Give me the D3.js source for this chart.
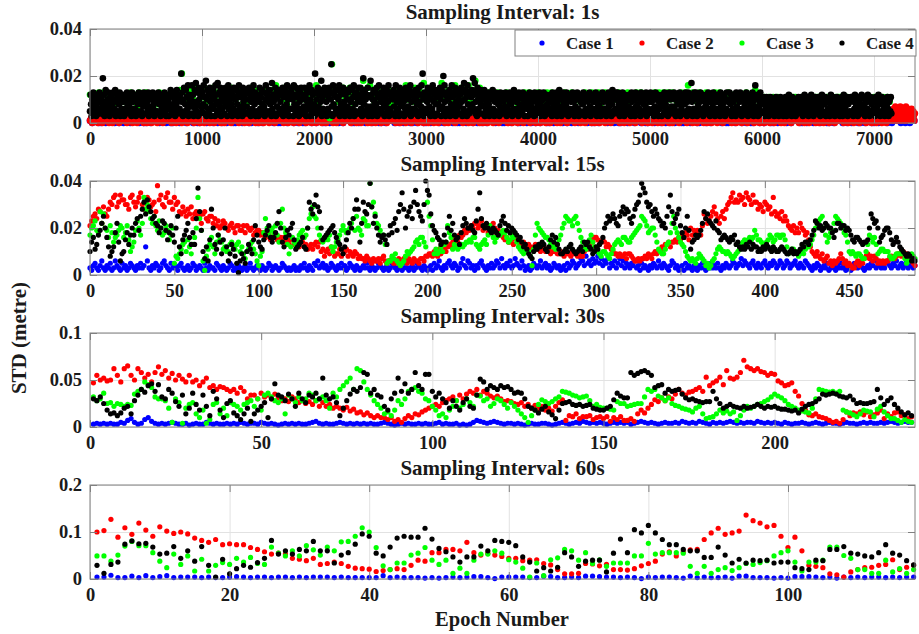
<!DOCTYPE html>
<html>
<head>
<meta charset="utf-8">
<script src="https://cdn.jsdelivr.net/npm/d3@7"></script>
<style>
  body { margin: 0; background: #fff; }
  svg { display: block; font-family: "Liberation Serif", "Times New Roman", serif; font-weight: bold; }
</style>
</head>
<body>
<script>
const W = 919;
const H = 634;

const caseNames = ["Case 1", "Case 2", "Case 3", "Case 4"];
const caseColors = ["#0000ff", "#ff0000", "#00ff00", "#000000"];
const panelTitles = ["Sampling Interval: 1s", "Sampling Interval: 15s", "Sampling Interval: 30s", "Sampling Interval: 60s"];
const xMax = [7366, 489, 241, 118.2];
const yMax = [0.04, 0.04, 0.1, 0.2];
const xTickValues = [
  [0, 1000, 2000, 3000, 4000, 5000, 6000, 7000],
  [0, 50, 100, 150, 200, 250, 300, 350, 400, 450],
  [0, 50, 100, 150, 200],
  [0, 20, 40, 60, 80, 100]
];
const yTickValues = [[0, 0.02, 0.04], [0, 0.02, 0.04], [0, 0.05, 0.1], [0, 0.1, 0.2]];

// all STD values below are in millimetres

// ---- 1 s sampling (values kept every few epochs) ----
const p1Blue = [ // epoch 0, 20, 40 ...
  1,0,1,1,0, 0,1,0,1,1, 1,0,1,0,1, 0,1,1,0,1, 1,1,0,1,0, 0,1,0,1,1, 1,0,1,1,0, 1,0,0,1,1,
  0,1,1,0,1, 1,0,1,0,0, 1,1,0,1,1, 0,1,0,1,0, 1,0,1,1,0, 0,1,1,0,1, 1,0,0,1,1, 0,1,0,1,1,
  1,1,0,1,0, 0,1,1,0,1, 1,0,1,0,1, 0,0,1,1,0, 1,0,1,1,0, 0,1,0,1,1, 1,0,1,0,1, 1,1,0,0,1,
  0,1,1,0,1, 1,0,1,1,0, 0,1,0,1,1, 1,0,1,0,1, 0,1,1,0,0, 1,0,1,1,0, 0,1,0,1,1, 1,0,1,0,1,
  1,1,0,1,0, 0,1,1,0,1, 1,0,1,0,1, 0,1,0,1,1, 1,0,1,1,0, 0,1,1,0,1, 1,0,0,1,1, 0,1,0,1,0,
  1,0,1,1,0, 0,1,0,1,1, 1,0,1,0,1, 0,1,1,0,1, 1,1,0,1,0, 0,1,0,1,1, 1,0,1,1,0, 1,0,0,1,1,
  0,1,1,0,1, 1,0,1,0,0, 1,1,0,1,1, 0,1,0,1,0, 1,0,1,1,0, 0,1,1,0,1, 1,0,0,1,1, 0,1,0,1,1,
  1,1,0,1,0, 0,1,1,0,1, 1,0,1,0,1, 0,0,1,1,0, 1,0,1,1,0, 0,1,0,1,1, 1,0,1,0,1, 1,1,0,0,1,
  0,1,1,0,1, 1,0,1,1,0, 0,1,0,1,1, 1,0,1,0,1, 0,1,1,0,0, 1,0,1,1,0, 0,1,0,1,1, 1,0,1,0,1,
  1,1,0,1,0, 1,0,1,1
];
const p1Red = [ // epoch 0, 10, 20 ... 7150
  1,2,0,1,2,1,2,0,2,1, 2,0,1,2,1,2,1,0,2,1, 0,2,1,2,1,3,0,1,2,1, 1,2,1,0,2,1,2,1,0,2,
  2,1,0,2,1,2,1,2,0,1, 1,0,2,1,2,0,3,1,1,2, 0,1,2,2,1,0,2,1,2,1, 2,1,1,0,2,2,1,0,1,2,
  1,2,0,2,1,1,3,0,2,1, 2,1,2,0,1,2,1,2,0,1, 1,2,0,1,2,1,3,0,2,1, 2,0,1,2,1,2,1,0,2,1,
  0,2,1,2,1,2,0,1,2,1, 1,2,1,0,2,1,2,1,0,2, 2,1,0,2,1,2,1,3,0,1, 1,0,2,1,2,0,2,1,1,2,
  0,1,2,3,1,0,2,1,2,1, 2,1,1,0,2,2,1,0,1,2, 1,2,0,2,1,1,2,0,3,1, 2,1,2,0,1,2,1,2,0,1,
  1,2,0,1,2,1,2,0,2,1, 2,0,1,2,1,2,1,0,2,1, 0,2,1,2,1,3,0,1,2,1, 1,2,1,0,2,1,2,1,0,2,
  2,1,0,2,1,2,1,2,0,1, 1,0,2,1,2,0,3,1,1,2, 0,1,2,2,1,0,2,1,2,1, 2,1,1,0,2,2,1,0,1,2,
  1,2,0,2,1,1,3,0,2,1, 2,1,2,0,1,2,1,2,0,1, 1,2,0,1,2,1,3,0,2,1, 2,0,1,2,1,2,1,0,2,1,
  0,2,1,2,1,2,0,1,2,1, 1,2,1,0,2,1,2,1,0,2, 2,1,0,2,1,2,1,3,0,1, 1,0,2,1,2,0,2,1,1,2,
  0,1,2,3,1,0,2,1,2,1, 2,1,1,0,2,2,1,0,1,2, 1,2,0,2,1,1,2,0,3,1, 2,1,2,0,1,2,1,2,0,1,
  1,2,0,1,2,1,2,0,2,1, 2,0,1,2,1,2,1,0,2,1, 0,2,1,2,1,3,0,1,2,1, 1,2,1,0,2,1,2,1,0,2,
  2,1,0,2,1,2,1,2,0,1, 1,0,2,1,2,0,3,1,1,2, 0,1,2,2,1,0,2,1,2,1, 2,1,1,0,2,2,1,0,1,2,
  1,2,0,2,1,1,3,0,2,1, 2,1,2,0,1,2,1,2,0,1, 1,2,0,1,2,1,3,0,2,1, 2,0,1,2,1,2,1,0,2,1,
  0,2,1,2,1,2,0,1,2,1, 1,2,1,0,2,1,2,1,0,2, 2,1,0,2,1,2,1,3,0,1, 1,0,2,1,2,0,2,1,1,2,
  0,1,2,3,1,0,2,1,2,1, 2,1,1,0,2,2,1,0,1,2, 1,2,0,2,1,1,2,0,3,1, 2,1,2,0,1,2,1,2,0,1,
  1,2,0,1,2,1,2,0,2,1, 2,0,1,2,1,2,1,0,2,1, 0,2,1,2,1,3,0,1,2,1, 1,2,1,0,2,1,2,1,0,2,
  2,1,0,2,1,2,1,2,0,1, 1,0,2,1,2,0,3,1,1,2, 0,1,2,2,1,0,2,1,2,1, 2,1,1,0,2,2,1,0,1,2,
  1,2,0,2,1,1,3,0,2,1, 2,1,2,0,1,2,1,2,0,1, 1,2,0,1,2,1,3,0,2,1, 2,0,1,2,1,2
];
const p1RedEnd = [ // epoch 7160, 7165 ... 7365
  3,5,1,6,4,2,7,3,5,1, 4,6,2,5,3,7,1,4,6,2, 5,3,6,1,4,7,2,5,3,6,
  1,4,2,5,3,6,4,2,5,3, 1,4
];
const p1Green = [ // epoch 0, 20, 40 ... 7140
  12,8,11,6,13, 9,13,7,11,10, 12,8,13,10,11, 9,12,6,13,11, 12,7,13,10,8, 13,10,6,12,11, 8,13,11,12,9, 12,6,13,10,12,
  14,21,9,13,11, 14,10,15,8,13, 11,15,9,14,12, 15,10,13,7,14, 12,14,9,15,11, 10,14,12,8,14, 13,9,15,11,12,
  14,11,8,14,10, 9,14,12,16,11, 13,10,15,8,14, 11,15,9,13,12, 14,10,12,15,9, 12,16,8,14,11, 10,13,2,25,15,
  14,9,12,15,10, 11,15,13,8,14, 13,10,18,12,15, 16,12,9,14,11, 10,14,12,15,8, 13,9,15,11,14, 12,16,10,13,9,
  15,11,14,10,17, 13,10,15,12,9, 11,14,17,13,10, 14,9,12,16,11, 12,15,10,13,16, 10,14,18,12,15,
  12,11,9,13,12, 12,10,13,8,12, 9,13,11,12,10, 13,8,12,10,13, 11,13,9,12,12, 13,10,12,9,13, 10,13,11,12,8,
  12,9,13,11,12, 13,11,10,12,9, 9,13,12,10,13, 12,10,13,8,11, 13,12,9,13,10, 10,13,11,12,12, 13,9,12,10,13,
  11,13,10,12,9, 12,10,13,11,13, 9,13,12,13,10, 13,11,9,12,13, 10,13,16,11,13, 12,9,13,10,12, 13,11,12,9,13,
  10,13,11,12,12, 13,10,12,9,12, 11,12,10,13,9, 12,10,14,11,8,
  10,11,9,11,10, 11,9,11,10,8, 9,11,10,11,11, 11,10,8,11,9, 10,11,11,9,11, 11,9,11,10,11,
  9,11,10,11,11, 11,10,9,11,10, 10,11,11,9,11, 11,11,10,11,9, 11,9,11,10,11, 10,11,9
];
const p1Black = [ // epoch 0, 5, 10 ... 7155
  5,12,8,3,10,6,13,4,9,7, 11,3,8,12,5,10,4,13,6,9,
  11,4,8,19,6,12,3,9,14,5, 7,10,4,13,8,3,11,6,12,9,
  7,13,4,10,6,14,3,9,12,5, 10,4,8,13,3,11,6,12,5,9,
  10,3,12,6,9,4,13,7,11,5, 8,12,4,10,3,13,6,9,11,5,
  6,11,3,9,12,5,8,13,4,10, 12,5,9,3,11,7,13,4,8,10,
  12,4,9,6,13,3,10,7,11,5, 4,10,13,6,8,3,12,5,9,11,
  5,10,13,4,8,11,3,12,6,9, 11,4,7,13,5,10,3,12,8,6,
  9,3,11,6,14,5,12,4,8,13, 6,10,3,12,7,14,4,9,11,5,
  6,12,4,21,9,13,3,10,15,5, 8,14,4,11,6,16,3,12,9,7,
  11,4,16,7,12,3,9,14,6,17, 5,13,8,3,15,10,4,12,7,14,
  5,13,8,16,4,11,7,18,3,10, 14,6,12,4,15,9,3,13,7,11,
  14,6,10,3,16,8,12,5,17,9, 4,13,7,15,3,11,6,14,9,12,
  4,11,15,7,13,3,9,16,6,12, 10,5,14,8,3,12,6,15,11,4,
  10,5,14,8,3,12,16,6,11,4, 13,7,3,15,9,5,12,4,10,14,
  7,13,4,10,15,5,12,3,9,14, 6,11,16,4,8,13,3,10,5,12,
  12,3,9,15,6,11,4,14,8,5, 13,7,3,10,16,5,12,4,9,14,
  5,14,8,11,3,17,6,12,9,4, 10,15,3,13,7,11,4,14,6,12,
  9,4,13,6,15,3,11,7,14,5, 12,8,16,4,10,3,13,6,11,15,
  13,6,10,3,16,8,12,4,15,7, 5,11,14,3,9,13,6,15,4,10,
  4,12,7,15,5,11,3,14,9,6, 13,8,16,3,10,5,14,7,12,4,
  8,3,21,6,13,10,4,15,7,12, 5,14,9,18,3,11,6,13,4,15,
  5,14,9,3,12,6,11,15,4,13, 10,25,7,3,16,8,12,4,14,6,
  11,6,14,4,10,16,3,12,8,5, 13,7,15,4,9,3,12,6,14,10,
  7,13,5,10,3,15,9,4,14,6, 11,16,3,12,8,5,13,4,10,15,
  12,4,9,15,6,11,3,13,19,8, 5,14,10,4,12,7,15,3,11,6,
  5,18,7,12,3,10,14,6,9,4, 13,8,15,3,11,6,16,4,12,9,
  13,6,11,4,15,8,3,12,7,10, 14,5,9,16,3,12,6,13,4,11,
  4,10,14,7,12,3,16,5,9,13, 6,11,3,15,8,12,4,10,14,7,
  9,3,12,6,15,10,4,13,7,11, 14,5,16,3,9,12,6,13,4,10,
  6,14,4,11,8,13,3,15,9,5, 12,7,16,4,21,10,3,13,6,11,
  12,5,9,15,4,11,7,14,3,10, 13,6,16,4,9,12,3,14,8,11,
  4,13,8,11,6,15,10,3,14,7, 12,20,5,16,9,3,13,6,11,4,
  10,6,14,3,12,8,16,5,11,4, 13,7,15,3,9,12,6,14,4,10,
  7,12,4,15,9,3,13,6,17,10, 5,14,11,3,16,8,12,4,13,6,
  5,11,14,8,19,6,12,17,4,9, 13,3,15,10,6,12,4,14,8,11,
  13,4,10,7,14,3,12,6,9,11, 5,13,8,3,11,6,12,4,10,14,
  6,12,3,9,13,5,10,4,11,8, 12,3,7,13,5,10,4,12,9,6,
  10,4,13,7,3,11,6,12,5,9, 13,4,8,11,3,10,6,14,5,12,
  4,9,12,6,10,3,13,7,11,5, 8,12,4,13,6,10,3,11,7,9,
  12,6,3,10,8,13,4,11,7,9, 5,12,10,3,13,6,9,4,11,7,
  5,11,8,13,3,9,12,6,10,4, 13,7,3,11,5,12,8,4,10,6,
  9,4,12,6,11,3,13,8,5,10, 4,12,7,13,3,9,11,5,14,6,
  12,7,3,10,5,13,9,4,11,6, 8,13,4,10,3,12,6,11,5,9,
  4,10,13,6,9,3,12,7,11,5, 13,6,10,3,12,5,9,4,11,8,
  8,13,5,11,3,10,6,12,4,9, 11,4,13,7,3,10,5,12,6,9,
  11,4,9,13,6,3,12,8,10,5, 7,12,3,11,5,13,4,9,10,6,
  6,12,3,9,11,5,13,7,4,10, 12,3,8,14,5,11,4,10,6,13,
  10,5,13,4,8,12,3,11,6,9, 4,13,7,10,3,12,5,9,11,6,
  4,11,7,12,5,10,3,13,9,6, 12,4,10,3,13,7,11,5,8,12,
  12,6,10,3,13,5,9,4,11,8, 5,12,7,13,3,10,6,11,4,9,
  5,13,4,9,12,6,11,3,10,7, 13,5,10,4,12,3,9,6,11,8,
  9,3,12,7,11,4,13,5,8,10, 6,12,3,11,5,13,4,10,7,12,
  11,6,4,13,7,10,3,12,5,9, 12,4,8,13,3,11,6,10,4,9,
  4,12,8,13,5,11,3,9,13,6, 10,4,12,5,17,9,3,11,6,13,
  10,5,13,6,3,11,8,12,4,9, 13,4,10,6,12,3,11,5,9,7,
  7,12,4,10,13,5,9,3,11,6, 12,4,8,13,5,10,3,11,6,9,
  12,4,9,6,11,3,13,7,10,5, 8,12,4,11,3,10,6,13,5,9,
  5,10,13,4,8,12,3,11,6,9, 12,5,10,3,13,7,4,11,6,10,
  9,13,5,11,3,10,6,12,4,8, 11,4,13,6,10,3,12,5,9,7,
  6,11,4,13,9,3,12,5,16,7, 10,4,12,3,11,6,9,13,5,8,
  10,4,8,11,5,3,9,6,11,4, 7,10,3,9,5,11,4,8,6,10,
  5,9,3,10,7,11,4,8,6,10, 3,9,5,11,4,8,10,6,3,9,
  8,4,11,6,3,10,5,9,12,7, 4,10,6,3,11,5,9,4,8,10,
  3,10,6,9,4,11,7,5,10,8, 11,4,9,3,10,6,12,5,8,4,
  9,5,11,3,8,6,10,4,12,7, 5,10,3,9,6,11,4,8,10,5,
  6,11,4,9,3,10,7,12,5,8, 10,4,8,11,3,9,5,10,6,4,
  10,3,8,12,5,9,4,11,6,7, 3,10,5,9,11,4,8,6,10,3,
  4,9,6,11,3,8,12,5,10,7, 9,4,11,3,8,10,5,9,4,11,
  11,5,10,3,9,6,12,4,8,10, 6,3,9,11,5,10,4,8,12,6,
  7,4,11,8,3,10,5,9,6,12, 4,10,3,9,11,5,8,4,10,6,
  9,6,3,11,5,10,7,4,12,8, 10,3,9,5,11,4,8,10,6,3,
  5,10,4,8,11,6,3,9,10,5,11,4
];

// ---- 15 s sampling (epoch 0 ... 489) ----
const p2Blue = [
  3,2,4,5,3,2,4,6,3,2, 4,3,5,2,3,6,4,3,2,5, 3,4,2,3,5,4,3,2,4,3, 5,3,4,12,6,3,2,4,3,5,
  4,2,3,5,6,4,3,2,5,3, 4,3,2,4,5,3,2,3,4,2, 3,5,4,2,3,4,3,2,5,3, 2,4,3,3,2,5,4,3,2,4,
  3,2,3,5,4,2,3,2,4,3, 2,3,4,2,3,5,3,2,3,4, 3,2,4,3,2,3,5,4,2,3, 4,3,2,3,5,4,3,2,3,2,
  3,4,2,3,2,4,3,5,3,2, 4,3,2,5,4,6,3,4,5,3, 4,2,3,5,4,3,2,4,3,5, 3,4,2,3,5,4,3,2,4,3,
  2,3,4,3,5,3,2,4,3,2, 3,5,4,3,2,3,4,2,3,5, 4,3,2,3,4,2,3,5,3,2, 3,4,2,3,5,4,3,2,4,3,
  2,3,4,2,5,3,4,6,3,2, 4,3,5,6,4,3,5,4,2,3, 5,7,4,3,6,5,3,4,2,4, 3,5,6,4,3,2,4,3,5,3,
  4,6,5,3,7,4,3,5,4,6, 3,4,7,5,4,3,6,4,2,3, 4,2,3,5,4,3,4,6,3,4, 5,3,4,2,3,5,4,3,4,2,
  3,4,2,5,3,4,6,5,3,4, 5,7,6,4,8,5,6,4,7,5, 6,8,5,7,4,6,5,7,3,5, 4,6,3,5,7,4,6,3,5,4,
  3,5,4,6,3,4,2,5,3,4, 3,2,4,3,5,4,3,6,4,3, 5,4,3,2,4,6,5,3,4,2, 3,4,2,5,3,4,3,2,4,3,
  2,4,3,5,3,2,4,3,5,3, 4,3,5,3,2,4,3,5,4,3, 4,6,5,3,4,5,7,4,6,5, 4,3,5,6,4,3,5,4,3,5,
  6,4,3,5,4,6,5,3,4,6, 5,3,4,6,5,3,4,5,6,4, 3,5,4,3,6,5,4,3,2,4, 3,5,4,2,3,4,3,5,2,3,
  4,3,2,4,3,5,3,4,2,3, 4,2,3,5,4,3,5,4,3,2, 3,4,3,5,4,6,3,4,5,3, 4,3,5,6,4,3,5,4,6,3,
  4,5,3,4,6,3,4,5,3,4
];
const p2Red = [
  21,23,25,26,24,28,27,22,29,26, 25,28,31,30,33,34,29,31,34,32, 32,30,30,28,33,34,31,29,31,33,
  35,30,28,31,33,32,29,30,31,27, 38,32,34,30,29,33,35,31,31,28, 33,30,31,27,26,29,27,25,28,26,
  29,24,26,27,25,25,22,26,27,24, 23,25,25,22,24,21,23,20,21,23, 22,20,19,21,22,20,18,21,21,19,
  19,21,18,21,20,19,20,17,18,19, 19,17,18,17,16,18,18,15,16,17, 17,15,16,16,14,16,14,15,13,15,
  15,13,14,13,12,14,14,12,13,11, 12,13,11,13,14,12,14,10,11,8, 10,11,9,12,10,8,9,9,11,8,
  9,10,11,8,10,9,8,10,9,7, 8,7,7,6,8,7,6,5,7,6, 6,7,5,7,8,6,5,6,6,7,
  5,6,5,7,4,6,7,6,5,7, 6,5,7,6,6,5,7,7,6,8, 8,9,9,8,10,9,8,11,9,10,
  11,10,12,13,12,14,15,16,14,17, 16,17,19,18,20,19,21,20,22,22, 20,21,23,19,21,20,18,21,19,22,
  20,18,19,17,18,16,15,16,14,14, 15,13,16,15,14,13,12,14,13,12, 13,12,11,12,13,11,12,10,11,12,
  10,11,11,9,10,10,12,9,9,10, 9,8,10,9,9,8,10,9,9,8, 9,8,8,10,12,11,13,15,14,16,
  16,15,13,14,15,14,12,13,12,11, 10,9,9,8,9,8,8,9,7,9, 9,8,7,6,6,7,6,7,7,8,
  7,9,8,7,9,10,9,10,10,12, 11,13,13,14,12,14,14,15,14,16, 15,17,16,18,17,15,20,17,19,18,
  19,17,17,21,26,24,22,23,25,27, 29,26,24,22,25,27,24,28,30,31, 33,35,31,32,31,34,32,33,30,35,
  33,32,30,34,31,31,28,30,29,27, 31,30,28,29,26,33,27,25,26,24, 27,23,25,23,21,20,19,21,18,20,
  18,22,20,19,17,18,15,12,10,9, 8,10,8,7,9,6,7,8,5,6, 4,6,5,6,7,9,7,5,6,4,
  5,4,3,3,5,6,4,6,5,7, 8,9,7,8,6,8,7,5,6,5, 6,5,6,6,7,8,7,7,8,9,
  9,8,10,9,9,8,7,6,5,4
];
const p2Green = [
  17,20,21,23,19,18,27,22,26,20, 19,16,21,18,14,16,17,19,21,20, 16,18,21,15,10,12,14,19,23,20,
  17,22,33,28,30,27,24,22,25,21, 19,23,20,17,18,21,19,15,17,20, 5,8,7,9,11,13,14,10,15,12,
  9,13,16,20,33,24,19,6,2,8, 11,13,16,12,9,14,17,15,14,11, 12,10,10,13,14,12,11,13,14,10,
  12,9,7,10,11,13,14,11,9,6, 4,8,10,18,24,20,17,19,20,18, 21,17,14,22,28,20,18,13,9,12,
  16,14,13,15,17,18,19,16,17,20, 24,26,29,25,24,20,17,15,14,15, 16,15,17,12,10,12,14,15,17,19,
  21,19,18,19,20,22,24,19,25,20, 19,17,24,23,21,21,39,29,31,26, 22,21,19,17,17,13,5,6,6,8,
  7,9,6,5,4,5,6,8,10,9, 10,11,12,14,15,13,16,16,14,12, 31,25,21,15,9,11,9,10,12,10,
  13,14,21,18,16,11,13,12,11,12, 13,12,13,14,14,15,14,16,16,13, 12,11,13,14,15,13,17,21,18,16,
  14,16,17,17,18,19,18,16,14,15, 17,16,17,14,12,11,10,9,10,10, 10,8,4,11,17,22,20,19,18,17,
  16,16,15,13,12,12,11,13,15,17, 20,22,25,24,23,23,21,24,25,22, 19,16,14,12,11,13,15,17,14,12,
  11,10,9,8,10,10,9,8,7,9, 11,13,14,15,14,13,16,16,15,14, 14,16,17,18,19,20,21,25,24,23,
  21,18,19,20,20,17,14,11,10,9, 9,11,13,14,18,22,25,20,18,16, 14,13,12,10,8,7,6,7,6,5,
  7,9,8,7,6,4,5,3,4,6, 7,9,11,12,11,10,10,9,10,9, 8,7,8,9,10,11,13,14,15,14,
  15,16,15,16,19,17,15,15,14,13, 13,14,15,17,16,14,15,17,17,16, 17,17,15,12,9,10,11,11,10,9,
  8,9,10,9,11,12,12,13,15,17, 20,22,23,24,25,20,17,14,16,18, 19,22,25,24,23,22,20,18,17,14,
  10,9,10,9,8,9,9,8,7,7, 10,13,17,16,14,16,13,9,10,11, 11,10,10,10,8,7,7,8,9,9,
  9,9,9,7,5,6,8,9,8,7
];
const p2Black = [
  10,14,16,11,13,17,19,22,25,20, 16,12,8,10,12,18,22,14,6,9, 10,15,18,13,17,20,17,22,24,19,
  25,28,31,26,32,29,27,24,25,22, 21,18,20,23,22,19,15,18,21,17, 14,20,25,12,9,15,17,19,22,16,
  13,18,13,24,37,27,19,10,7,12, 6,15,28,20,13,11,17,14,9,15, 20,12,6,9,13,11,8,5,1,6,
  9,7,5,10,13,11,9,15,21,17, 14,12,11,15,17,19,21,16,14,16, 18,22,27,20,14,12,16,19,17,20,
  22,15,11,12,13,14,16,12,11,20, 31,28,26,30,34,29,27,20,15,16, 17,18,19,20,21,18,16,14,13,11,
  9,12,15,18,22,20,24,28,32,28, 14,22,31,27,26,30,39,29,22,25, 20,17,14,16,17,15,13,17,21,18,
  22,24,19,27,30,35,28,20,25,27, 29,24,31,36,30,27,25,23,30,40, 36,34,26,21,19,18,16,15,13,14,
  17,14,20,25,19,22,17,15,16,13, 18,21,24,22,20,20,21,19,18,23, 28,35,24,21,20,22,20,19,18,20,
  19,18,17,21,23,25,22,19,21,18, 20,19,18,17,15,16,14,12,13,11, 9,8,7,10,12,11,13,12,14,13,
  11,10,12,15,17,14,16,13,11,9, 9,10,11,10,12,13,11,10,9,10, 11,12,10,14,13,14,12,11,9,10,
  12,11,13,14,16,20,22,25,23,24, 26,24,22,21,25,27,29,26,28,27, 24,22,25,28,30,31,34,39,37,35,
  31,29,30,27,25,28,26,24,23,21, 22,20,25,29,34,27,22,24,26,28, 21,18,16,20,25,19,11,14,15,17,
  16,17,19,22,27,24,26,23,22,21, 20,23,19,18,15,16,17,16,15,14, 16,15,17,13,14,12,11,12,11,13,
  12,14,11,13,12,12,10,11,10,12, 11,13,12,11,10,12,11,10,10,11, 12,11,10,9,9,10,11,9,10,9,
  10,11,13,12,14,14,13,15,17,19, 23,22,20,21,19,20,22,21,20,20, 18,16,19,22,22,20,21,21,19,20,
  19,17,15,14,16,16,15,14,13,14, 14,15,20,26,24,22,23,20,14,16, 17,19,20,20,18,15,13,14,16,14,
  12,11,10,9,8,9,8,6,7,6
];

// ---- 30 s sampling (epoch 1 ... 240) ----
const p3Blue = [
  3,4,3,4,3,4,3,3,5,4, 7,9,5,3,4,8,10,6,4,3, 4,3,4,5,4,3,3,4,2,3, 4,3,3,5,4,3,4,3,3,4,
  3,4,3,5,4,3,4,4,3,5, 4,3,4,3,2,3,4,3,4,3, 4,3,3,4,5,6,4,3,4,3, 3,4,5,4,3,4,3,4,3,4,
  3,4,3,3,4,5,4,3,2,3, 4,3,4,3,3,4,3,4,3,3, 4,5,3,4,3,3,4,2,3,2, 3,5,7,6,5,4,5,6,5,4,
  3,4,4,3,4,3,2,3,4,3, 3,4,4,3,2,3,4,5,4,3, 4,5,4,6,5,4,5,4,5,4, 3,4,5,4,5,4,5,3,4,5,
  6,5,4,5,4,3,4,5,4,4, 5,4,6,5,4,5,4,6,5,4, 3,5,4,5,4,5,6,5,4,5, 4,5,5,4,6,5,4,5,4,5,
  4,3,5,4,3,4,4,5,4,3, 4,5,4,3,4,5,4,4,3,4, 5,4,4,3,4,5,4,5,4,4, 5,4,5,6,5,4,5,6,5,5
];
const p3Red = [
  47,55,50,52,49,50,62,55,48,62, 65,55,50,62,58,52,56,48,58,64, 56,60,52,57,50,55,51,48,55,48,
  50,44,48,52,42,44,40,43,42,40, 38,40,36,42,38,30,34,34,30,36, 32,34,30,35,31,28,30,27,32,30,
  26,28,25,27,24,28,22,26,22,24, 20,22,20,18,21,17,19,15,16,13, 15,12,10,12,10,10,8,10,6,8,
  5,9,12,10,14,13,16,18,20,22, 24,22,26,28,30,32,28,34,30,35, 38,36,40,34,38,36,33,31,33,30,
  27,28,27,25,24,26,22,24,20,23, 19,22,18,20,17,22,26,29,7,12, 11,14,9,11,11,12,8,10,11,9,
  11,6,10,8,11,7,7,9,6,14, 18,15,20,24,29,27,31,28,32,30, 35,40,36,34,37,38,40,42,38,53,
  44,47,49,53,45,60,52,51,53,58, 71,64,62,60,62,59,58,55,57,56, 49,47,44,45,47,38,33,25,18,13,
  12,14,11,10,9,7,5,6,4,8, 16,12,15,14,16,13,16,11,13,15, 18,9,14,11,15,16,12,13,9,11
];
const p3Green = [
  32,28,30,36,25,26,22,25,24,22, 24,23,35,38,40,48,45,42,32,30, 30,28,20,5,30,26,4,20,24,26,
  14,10,18,4,8,24,26,14,20,12, 26,24,22,18,24,26,28,22,30,18, 34,36,32,28,26,30,14,34,30,26,
  32,28,30,36,34,28,30,32,28,20, 36,32,40,44,48,52,40,62,60,48, 40,34,28,24,20,14,16,12,18,28,
  24,30,38,40,42,38,36,30,28,22, 18,12,14,10,18,22,28,20,24,30, 26,22,34,33,28,30,22,25,30,28,
  24,20,26,22,18,14,10,5,12,18, 24,29,27,25,27,30,32,38,37,36, 34,33,31,32,33,28,22,24,21,20,
  20,19,18,27,25,25,22,23,24,25, 25,32,40,38,40,33,31,28,31,25, 23,22,20,19,18,16,20,22,14,9,
  10,11,14,18,15,17,14,16,7,12, 18,22,20,22,24,25,27,29,32,35, 33,31,28,24,22,20,18,17,16,15,
  20,30,40,39,38,37,38,36,38,18, 16,15,13,11,14,18,17,16,11,19, 22,16,12,9,9,7,5,8,6,5
];
const p3Black = [
  30,28,32,25,18,14,15,12,15,20, 22,14,28,34,40,37,44,46,38,45, 32,30,40,36,27,22,34,14,20,36,
  24,18,34,22,12,38,30,18,10,25, 28,15,12,8,14,20,6,14,18,22, 26,10,30,46,34,32,28,35,30,22,
  36,30,26,34,32,36,30,52,34,30, 32,26,12,20,28,35,40,38,42,58, 56,36,40,34,32,22,18,30,36,52,
  38,46,36,40,58,44,40,56,56,38, 32,36,30,26,20,28,22,18,26,30, 22,20,34,51,48,40,44,42,40,44,
  42,43,40,36,37,36,30,22,20,18, 15,19,22,16,13,9,18,25,26,27, 24,23,24,22,23,24,20,19,18,18,
  20,22,29,36,33,31,31,58,55,57, 59,60,58,55,42,44,45,36,40,38, 39,40,35,31,29,30,28,27,26,27,
  27,38,30,25,20,22,24,22,21,20, 22,20,21,22,24,22,20,22,21,22, 20,19,19,18,17,18,15,19,22,24,
  25,27,30,35,34,35,36,35,33,32, 31,33,29,25,26,25,25,26,27,40, 31,24,28,31,24,20,16,13,15,12
];

// ---- 60 s sampling (epoch 1 ... 118) ----
const p4Blue = [
  4,4,8,3,3,6,3,7,3,5, 7,3,4,4,4,3,4,3,3,4, 5,4,3,4,4,3,4,4,3,4, 3,4,4,4,3,4,3,3,3,3,
  3,7,3,4,3,3,3,2,3,2, 3,4,3,4,5,5,3,1,4,4, 4,4,3,3,6,5,3,3,4,3, 6,6,5,4,4,3,4,3,1,4,
  3,4,4,3,2,6,3,4,3,3, 4,2,6,6,3,3,3,2,3,2, 5,5,5,4,3,4,2,4,3,4, 3,4,4,3,4,3,4,4
];
const p4Red = [
  100,103,127,89,109,95,119,104,91,111, 102,97,100,96,87,82,78,84,73,75, 73,73,67,63,58,53,55,53,44,42,
  39,44,31,33,36,33,27,23,22,21, 16,18,20,22,20,29,40,38,56,56, 63,63,60,78,56,51,55,51,48,44,
  44,39,40,41,33,30,20,11,11,12, 33,32,28,31,20,20,19,22,28,33, 38,53,58,49,58,62,63,84,98,108,
  95,98,102,136,124,119,111,114,91,67, 89,60,29,27,24,11,9,4,15,20, 24,25,29,31,41,20,25,29
];
const p4Green = [
  49,49,38,51,70,80,71,71,56,38, 24,53,31,49,17,42,17,29,35,31, 44,36,46,33,31,68,55,49,60,49,
  71,62,51,68,60,79,80,91,109,100, 67,28,20,34,34,51,55,67,40,31, 40,12,23,12,40,53,53,60,55,41,
  36,23,4,34,7,41,45,63,60,40, 56,33,41,27,34,34,34,49,49,76, 53,56,56,56,55,27,12,27,12,20,
  24,18,24,33,31,35,39,49,56,60, 36,17,36,36,40,68,68,50,44,20, 20,12,12,40,15,22,12,20
];
const p4Black = [
  29,12,31,36,74,81,75,76,68,53, 55,69,44,60,38,69,29,4,42,11, 22,29,25,35,44,82,53,60,53,63,
  60,80,60,60,34,51,56,74,96,91, 55,49,68,87,91,89,89,108,85,65, 58,47,36,47,47,70,60,82,80,78,
  71,47,36,17,24,17,25,56,47,27, 38,40,40,15,55,85,56,105,98,114, 98,84,73,73,63,60,60,46,46,68,
  51,34,42,34,40,39,40,34,36,36, 24,22,20,40,39,63,63,69,55,53, 49,47,56,73,55,51,39,30
];

// draw order per panel: case index, values, first epoch, epoch step
const panelSeries = [
  [[0, p1Blue, 0, 20], [1, p1Red, 0, 10], [1, p1RedEnd, 7160, 5], [2, p1Green, 0, 20], [3, p1Black, 0, 5]],
  [[0, p2Blue, 0, 1], [1, p2Red, 0, 1], [2, p2Green, 0, 1], [3, p2Black, 0, 1]],
  [[0, p3Blue, 1, 1], [1, p3Red, 1, 1], [2, p3Green, 1, 1], [3, p3Black, 1, 1]],
  [[0, p4Blue, 1, 1], [1, p4Red, 1, 1], [2, p4Green, 1, 1], [3, p4Black, 1, 1]]
];
const markerRadius = [3.3, 2.6, 2.6, 2.6];

const left = 90, right = 915, plotH = 94, gap = 152, firstTop = 29;
const textColor = "#1a1a1a";
const axisColor = "#808080";

const svg = d3.select("body").append("svg").attr("width", W).attr("height", H);
svg.append("rect").attr("width", W).attr("height", H).attr("fill", "#fff");

function styleAxis(g, fontSize) {
  g.attr("font-family", null).attr("font-size", null);
  g.select("path.domain").remove();
  g.selectAll("line").attr("stroke", axisColor);
  g.selectAll("text").attr("fill", textColor).style("font-size", fontSize);
}

panelSeries.forEach((series, i) => {
  const top = firstTop + gap * i;
  const bottom = top + plotH;
  const x = d3.scaleLinear().domain([0, xMax[i]]).range([left, right]);
  const y = d3.scaleLinear().domain([0, yMax[i]]).range([bottom, top]);
  const g = svg.append("g");

  // grid
  g.append("g").attr("transform", `translate(0,${bottom})`)
    .call(d3.axisBottom(x).tickValues(xTickValues[i]).tickSize(-plotH).tickFormat(""))
    .call(a => { a.select("path.domain").remove(); a.selectAll("line").attr("stroke", "#e2e2e2"); });
  g.append("g").attr("transform", `translate(${left},0)`)
    .call(d3.axisLeft(y).tickValues(yTickValues[i]).tickSize(-(right - left)).tickFormat(""))
    .call(a => { a.select("path.domain").remove(); a.selectAll("line").attr("stroke", "#e2e2e2"); });

  // points
  series.forEach(([k, vals, start, step]) => {
    g.append("g").selectAll("circle").data(vals).join("circle")
      .attr("cx", (d, j) => x(start + j * step))
      .attr("cy", d => y(d / 1000))
      .attr("r", markerRadius[i])
      .attr("fill", caseColors[k]);
  });

  // box and ticks
  g.append("rect").attr("x", left).attr("y", top).attr("width", right - left).attr("height", plotH)
    .attr("fill", "none").attr("stroke", axisColor);
  g.append("g").attr("transform", `translate(0,${bottom})`)
    .call(d3.axisBottom(x).tickValues(xTickValues[i]).tickSizeInner(-7).tickSizeOuter(0).tickPadding(9).tickFormat(d3.format("d")))
    .call(a => styleAxis(a, "18.5px"));
  g.append("g").attr("transform", `translate(0,${top})`)
    .call(d3.axisTop(x).tickValues(xTickValues[i]).tickSizeInner(-7).tickSizeOuter(0).tickFormat(""))
    .call(a => styleAxis(a, "18.5px"));
  g.append("g").attr("transform", `translate(${left},0)`)
    .call(d3.axisLeft(y).tickValues(yTickValues[i]).tickSizeInner(-7).tickSizeOuter(0).tickPadding(8).tickFormat(d3.format("~g")))
    .call(a => styleAxis(a, "18.5px"));
  g.append("g").attr("transform", `translate(${right},0)`)
    .call(d3.axisRight(y).tickValues(yTickValues[i]).tickSizeInner(-7).tickSizeOuter(0).tickFormat(""))
    .call(a => styleAxis(a, "18.5px"));

  g.append("text").attr("x", (left + right) / 2).attr("y", top - 10)
    .attr("text-anchor", "middle").attr("fill", textColor).style("font-size", "21px")
    .text(panelTitles[i]);
});

// legend
const legend = svg.append("g");
legend.append("rect").attr("x", 515).attr("y", 30).attr("width", 401).attr("height", 26)
  .attr("fill", "#fff").attr("stroke", axisColor);
const items = legend.selectAll("g.item").data(caseNames).join("g").attr("class", "item")
  .attr("transform", (d, k) => `translate(${542 + k * 100},43)`);
items.append("circle").attr("r", 2.6).attr("fill", (d, k) => caseColors[k]);
items.append("text").attr("x", 24).attr("y", 6).attr("fill", textColor).style("font-size", "17px").text(d => d);

// axis labels
svg.append("text").attr("transform", "translate(26,338) rotate(-90)").attr("text-anchor", "middle")
  .attr("fill", textColor).style("font-size", "21px").text("STD (metre)");
svg.append("text").attr("x", 502).attr("y", 626).attr("text-anchor", "middle")
  .attr("fill", textColor).style("font-size", "20.5px").text("Epoch Number");
</script>
</body>
</html>
